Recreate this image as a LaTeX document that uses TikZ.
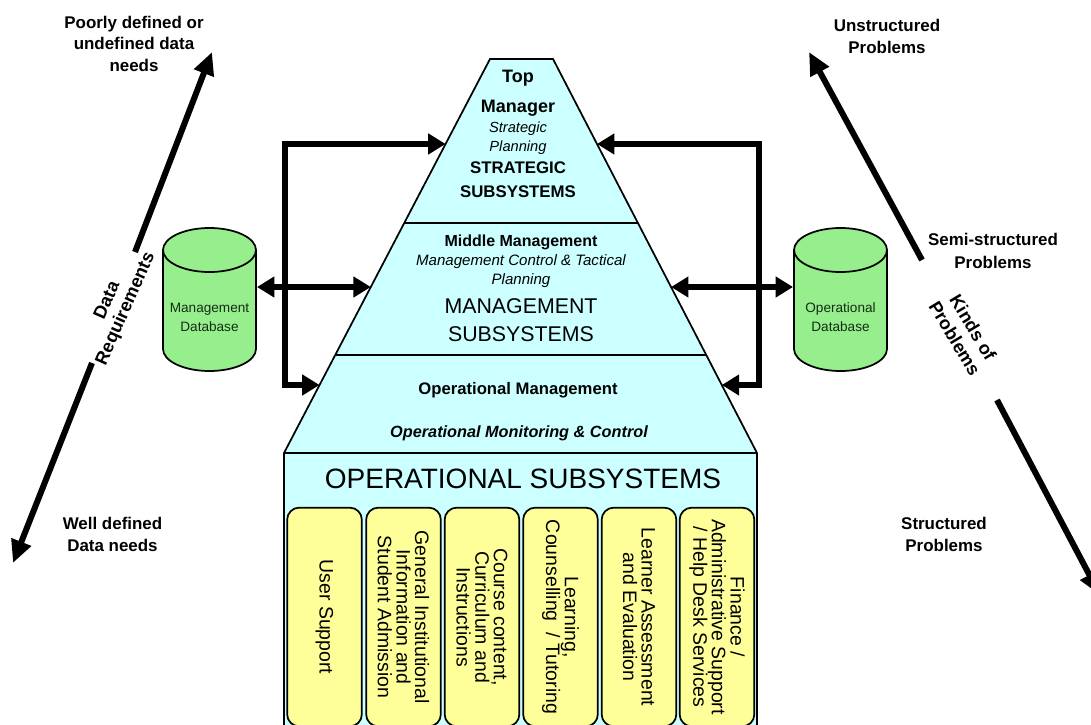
\documentclass[tikz,border=0pt]{standalone}
\usepackage{fontspec}
\setmainfont{Liberation Sans}
\usetikzlibrary{arrows.meta,calc}
\definecolor{pyr}{RGB}{204,255,255}
\definecolor{boxy}{RGB}{255,255,153}
\definecolor{dbg}{RGB}{150,238,140}
\definecolor{dbtext}{RGB}{20,45,20}
\begin{document}
\begin{tikzpicture}[x=0.75pt,y=-0.75pt,
  lbl/.style={inner sep=0pt, anchor=base},
  conn/.style={line width=4.2pt, -{Triangle[length=13pt,width=15pt]}},
  dconn/.style={line width=4.2pt, {Triangle[length=13pt,width=15pt]}-{Triangle[length=13pt,width=15pt]}},
  diag/.style={line width=4.5pt, -{Triangle[length=17pt,width=15pt]}},
  ubox/.style={draw, fill=boxy, line width=1.3pt, rounded corners=9pt, rotate=-90,
    minimum width=164pt, minimum height=56pt, align=center, inner sep=0pt,
    font=\fontsize{14.6}{14}\selectfont},
  side/.style={inner sep=0pt, anchor=base, font=\bfseries\fontsize{12.7}{15}\selectfont},
  rotlbl/.style={inner sep=0pt, align=center, font=\bfseries\fontsize{13.6}{15}\selectfont},
  dbl/.style={inner sep=0pt, align=center, text=dbtext, font=\fontsize{10.2}{14.25}\selectfont},
  outl/.style={line width=1.3pt},
]
\useasboundingbox (0,0) rectangle (1091,724);
\fill[white] (0,0) rectangle (1091,724);
\clip (0,0) rectangle (1091,724);

% pyramid
\coordinate (TL) at (490,59);
\coordinate (TR) at (553,59);
\coordinate (BL) at (284,453);
\coordinate (BR) at (757,453);
\coordinate (BBL) at (284,745);
\coordinate (BBR) at (757,745);
\filldraw[fill=pyr, outl] (TL) -- (TR) -- (BR) -- (BBR) -- (BBL) -- (BL) -- cycle;
\draw[outl] ($(TL)!0.4162!(BL)$) -- ($(TR)!0.4162!(BR)$);
\draw[outl] ($(TL)!0.7513!(BL)$) -- ($(TR)!0.7513!(BR)$);
\draw[outl] (BL) -- (BR);

% pyramid texts
\node[lbl, font=\bfseries\fontsize{13.5}{16}\selectfont] (t1) at (518,83) {Top};
\node[lbl, font=\bfseries\fontsize{13.5}{16}\selectfont] (t2) at (518,113) {Manager};
\node[lbl, font=\itshape\fontsize{11}{13}\selectfont] (t3) at (518,132.5) {Strategic};
\node[lbl, font=\itshape\fontsize{11}{13}\selectfont] (t4) at (518,151) {Planning};
\node[lbl, font=\bfseries\fontsize{12.6}{15}\selectfont] (t5) at (518,173.5) {STRATEGIC};
\node[lbl, font=\bfseries\fontsize{12.6}{15}\selectfont] (t6) at (518,197) {SUBSYSTEMS};

\node[lbl, font=\bfseries\fontsize{12}{14}\selectfont] (m1) at (521,246) {Middle Management};
\node[lbl, font=\itshape\fontsize{11.3}{13}\selectfont] (m2) at (521,265) {Management Control \& Tactical};
\node[lbl, font=\itshape\fontsize{11.3}{13}\selectfont] (m3) at (521,284) {Planning};
\node[lbl, font=\fontsize{16}{19}\selectfont] (m4) at (521,313) {MANAGEMENT};
\node[lbl, font=\fontsize{16}{19}\selectfont] (m5) at (521,341) {SUBSYSTEMS};

\node[lbl, font=\bfseries\fontsize{12.5}{15}\selectfont] (o1) at (518,394) {Operational Management};
\node[lbl, font=\bfseries\itshape\fontsize{12.2}{15}\selectfont] (o2) at (519,437) {Operational Monitoring \& Control};
\node[lbl, font=\fontsize{21}{25}\selectfont] (o3) at (523,488) {OPERATIONAL SUBSYSTEMS};

% operational subsystem boxes
\node[ubox] (b1) at (324.5,617) {User Support};
\node[ubox] (b2) at (403.5,617) {General Institutional\\Information and\\Student Admission};
\node[ubox] (b3) at (482,617) {Course content,\\Curriculum and\\Instructions};
\node[ubox] (b4) at (560.5,617) {Learning,\\Counselling\ \ / Tutoring};
\node[ubox] (b5) at (639,617) {Learner Assessment\\and Evaluation};
\node[ubox] (b6) at (717,617) {Finance /\\Administrative Support\\/ Help Desk Services};

% databases
\fill[dbg] (163,250) -- (163,349) arc[start angle=180, end angle=360, x radius=34.875pt, y radius=16.5pt] -- (256,250) -- cycle;
\draw[outl] (163,250) -- (163,349) arc[start angle=180, end angle=360, x radius=34.875pt, y radius=16.5pt] -- (256,250);
\filldraw[fill=dbg, outl] (209.5,250) ellipse[x radius=34.875pt, y radius=16.5pt];
\node[dbl] (mdb) at (209.5,317) {Management\\Database};

\fill[dbg] (794,250) -- (794,349) arc[start angle=180, end angle=360, x radius=34.875pt, y radius=16.5pt] -- (887,250) -- cycle;
\draw[outl] (794,250) -- (794,349) arc[start angle=180, end angle=360, x radius=34.875pt, y radius=16.5pt] -- (887,250);
\filldraw[fill=dbg, outl] (840.5,250) ellipse[x radius=34.875pt, y radius=16.5pt];
\node[dbl] (odb) at (840.5,317) {Operational\\Database};

% connectors
\coordinate (L1) at ($(TL)!0.2157!(BL)$);
\coordinate (R1) at ($(TR)!0.2157!(BR)$);
\coordinate (L2) at ($(TL)!0.5787!(BL)$);
\coordinate (R2) at ($(TR)!0.5787!(BR)$);
\coordinate (L3) at ($(TL)!0.8274!(BL)$);
\coordinate (R3) at ($(TR)!0.8274!(BR)$);
\coordinate (LC1) at (285,144);
\coordinate (LC2) at (285,385);
\coordinate (RC1) at (759,144);
\coordinate (RC2) at (759,385);
\coordinate (mdbE) at (257,287);
\coordinate (odbW) at (793,287);
\draw[dconn] (L1) -- (LC1) -- (LC2) -- (L3);
\draw[dconn] (R1) -- (RC1) -- (RC2) -- (R3);
\draw[dconn] (mdbE) -- (L2);
\draw[dconn] (R2) -- (odbW);

% diagonal axes
\coordinate (lTip) at (212,52);
\coordinate (lA) at (135,252);
\coordinate (lB) at (92,363);
\coordinate (lTip2) at (13,563);
\coordinate (rTip) at (809,52);
\coordinate (rA) at (922,260);
\coordinate (rB) at (997,400);
\coordinate (rTip2) at (1100,595);
\draw[diag] (lA) -- (lTip);
\draw[diag] (lB) -- (lTip2);
\draw[diag] (rA) -- (rTip);
\draw[diag] (rB) -- (rTip2);

\node[rotlbl, rotate=66] (dreq) at (117,305) {Data\\Requirements};
\node[rotlbl, rotate=-59, font=\bfseries\fontsize{13.6}{16}\selectfont] (kop) at (964,333) {Kinds of\\Problems};

% side labels
\node[side] (pd1) at (134,28.3) {Poorly defined or};
\node[side] (pd2) at (134,50) {undefined data};
\node[side] (pd3) at (134,71.7) {needs};
\node[side] (wd1) at (112.5,529) {Well defined};
\node[side] (wd2) at (112.5,551) {Data needs};
\node[side] (up1) at (887,31.7) {Unstructured};
\node[side] (up2) at (887,53.3) {Problems};
\node[side] (sp1) at (993,245) {Semi-structured};
\node[side] (sp2) at (993,268.3) {Problems};
\node[side] (st1) at (944,529.3) {Structured};
\node[side] (st2) at (944,551) {Problems};
\end{tikzpicture}
\end{document}
